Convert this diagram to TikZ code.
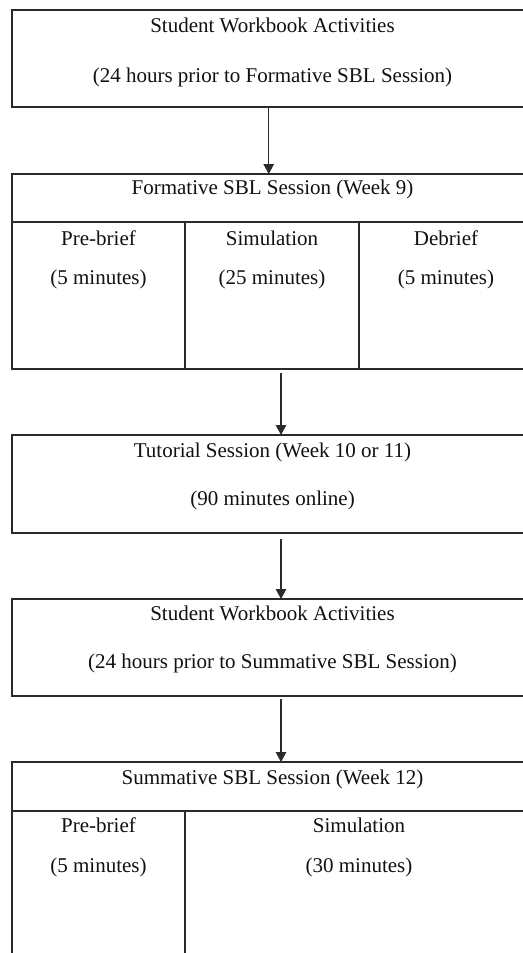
\documentclass[tikz,border=0pt]{standalone}
\usepackage{fontspec}
\setmainfont{Liberation Serif}
\usetikzlibrary{arrows.meta}
\definecolor{ln}{HTML}{2A2A2A}
\definecolor{tx}{HTML}{111111}
\tikzset{
  cell/.style={draw=ln, line width=1.3bp, rectangle, inner sep=0pt, outer sep=0pt, anchor=north west},
  lbl/.style={anchor=base, inner sep=0pt, text=tx, font=\fontsize{21bp}{25bp}\selectfont},
  flow/.style={draw=ln, line width=1.3bp, -{Triangle[length=10bp,width=10.5bp]}}
}
\begin{document}
\begin{tikzpicture}[x=1bp,y=-1bp]
\useasboundingbox (0,0) rectangle (523,953);
\clip (0,0) rectangle (523,953);
\fill[white] (0,0) rectangle (523,953);
% Box 1
\node[cell, minimum width=521bp, minimum height=97bp] (b1) at (12,10) {};
\node[lbl] (t1a) at (272.5,32) {Student Workbook Activities};
\node[lbl] (t1b) at (272.5,82.5) {(24 hours prior to Formative SBL Session)};
% Box 2
\node[cell, minimum width=521bp, minimum height=48bp] (b2) at (12,174) {};
\node[cell, minimum width=173bp, minimum height=147bp] (b2a) at (12,222) {};
\node[cell, minimum width=174bp, minimum height=147bp] (b2b) at (185,222) {};
\node[cell, minimum width=174bp, minimum height=147bp] (b2c) at (359,222) {};
\node[lbl] (t2) at (272.5,194.5) {Formative SBL Session (Week 9)};
\node[lbl] (t2a1) at (98.5,245) {Pre-brief};
\node[lbl] (t2a2) at (98.5,284) {(5 minutes)};
\node[lbl] (t2b1) at (272,245) {Simulation};
\node[lbl] (t2b2) at (272,284) {(25 minutes)};
\node[lbl] (t2c1) at (446,245) {Debrief};
\node[lbl] (t2c2) at (446,284) {(5 minutes)};
% Box 3
\node[cell, minimum width=521bp, minimum height=98bp] (b3) at (12,435) {};
\node[lbl] (t3a) at (272.5,457) {Tutorial Session (Week 10 or 11)};
\node[lbl] (t3b) at (272.5,505) {(90 minutes online)};
% Box 4
\node[cell, minimum width=521bp, minimum height=97bp] (b4) at (12,599) {};
\node[lbl] (t4a) at (272.5,620.5) {Student Workbook Activities};
\node[lbl] (t4b) at (272.5,668) {(24 hours prior to Summative SBL Session)};
% Box 5
\node[cell, minimum width=521bp, minimum height=49bp] (b5) at (12,762) {};
\node[cell, minimum width=173bp, minimum height=200bp] (b5a) at (12,811) {};
\node[cell, minimum width=348bp, minimum height=200bp] (b5b) at (185,811) {};
\node[lbl] (t5) at (272.5,784) {Summative SBL Session (Week 12)};
\node[lbl] (t5a1) at (98.5,832) {Pre-brief};
\node[lbl] (t5a2) at (98.5,872) {(5 minutes)};
\node[lbl] (t5b1) at (359,832) {Simulation};
\node[lbl] (t5b2) at (359,872) {(30 minutes)};
% Connectors
\coordinate (xa) at (268.7,0);
\coordinate (xb) at (281,0);
\draw[flow] (b1.south -| xa) -- (b2.north -| xa);
\draw[flow, shorten <=4bp] (b2b.south -| xb) -- (b3.north -| xb);
\draw[flow, shorten <=6bp] (b3.south -| xb) -- (b4.north -| xb);
\draw[flow, shorten <=3bp] (b4.south -| xb) -- (b5.north -| xb);
\end{tikzpicture}
\end{document}
